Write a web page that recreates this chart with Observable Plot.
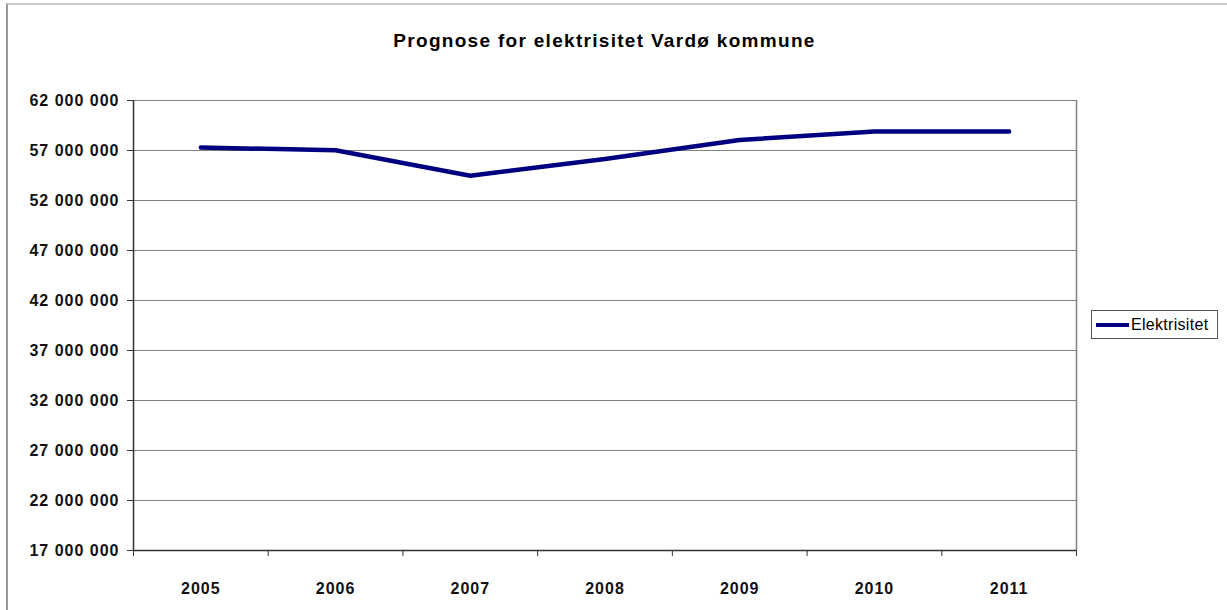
<!DOCTYPE html>
<html>
<head>
<meta charset="utf-8">
<script src="https://cdn.jsdelivr.net/npm/d3@7"></script>
<script src="https://cdn.jsdelivr.net/npm/@observablehq/plot@0.6"></script>
<style>
  html, body { margin: 0; padding: 0; background: #fff; }
  #wrap { position: relative; width: 1227px; height: 610px; overflow: hidden; font-family: "Liberation Sans", Arial, sans-serif; }
  #frame { position: absolute; left: 6px; top: 3px; width: 1240px; height: 620px; border-top: 2px solid #c8c8c8; border-left: 2px solid #9a9a9a; box-sizing: border-box; }
  #title { position: absolute; left: 133px; width: 943px; top: 30px; text-align: center; font-size: 19px; letter-spacing: 1.3px; font-weight: bold; color: #000; }
  #chart { position: absolute; left: 0; top: 80px; }
  #legend { position: absolute; left: 1091px; top: 310px; width: 127px; height: 29px; border: 1px solid #555; box-sizing: border-box; display: flex; align-items: center; font-size: 16px; letter-spacing: 0.3px; color: #000; }
  #legend .swatch { width: 33px; height: 4px; background: #000080; margin-left: 4px; margin-right: 2px; }
</style>
</head>
<body>
<div id="wrap">
  <div id="frame"></div>
  <div id="title">Prognose for elektrisitet Vardø kommune</div>
  <div id="chart"></div>
  <div id="legend"><div class="swatch"></div><span>Elektrisitet</span></div>
</div>
<script>
const years = [2005, 2006, 2007, 2008, 2009, 2010, 2011];
const values = [57300000, 57020000, 54480000, 56150000, 58050000, 58900000, 58900000];
const yTicks = [17000000, 22000000, 27000000, 32000000, 37000000, 42000000, 47000000, 52000000, 57000000, 62000000];
const seriesName = "Elektrisitet";

const data = years.map((year, i) => ({year, value: values[i], series: seriesName}));
const xMin = years[0] - 0.5;
const xMax = years[years.length - 1] + 0.5;
const boundaries = years.map(y => y - 0.5).concat([xMax]);
const yMin = yTicks[0];
const yMax = yTicks[yTicks.length - 1];
const fmt = d => d3.format(",")(d).replace(/,/g, " ");

const chart = Plot.plot({
  width: 1227,
  height: 530,
  marginLeft: 133,
  marginRight: 151,
  marginTop: 20,
  marginBottom: 60,
  style: {fontFamily: "'Liberation Sans', Arial, sans-serif", fontSize: "16px", letterSpacing: "1px", background: "transparent", overflow: "visible"},
  x: {type: "linear", domain: [xMin, xMax], axis: null},
  y: {type: "linear", domain: [yMin, yMax], axis: null},
  marks: [
    Plot.ruleY(yTicks, {stroke: "#808080", strokeWidth: 1}),
    Plot.ruleX([xMax], {stroke: "#808080", strokeWidth: 1.5}),
    Plot.ruleY(yTicks, {x1: xMin, x2: xMin, insetLeft: -6, stroke: "#333"}),
    Plot.ruleX(boundaries, {y1: yMin, y2: yMin, insetBottom: -6, stroke: "#333"}),
    Plot.ruleY([yMin], {stroke: "#333", strokeWidth: 1.5}),
    Plot.ruleX([xMin], {stroke: "#333", strokeWidth: 1.5}),
    Plot.line(data, {x: "year", y: "value", stroke: "#000080", strokeWidth: 4.5}),
    Plot.text(yTicks, {x: xMin, y: d => d, text: fmt, textAnchor: "end", dx: -14, fontWeight: "bold", fontSize: 16, fill: "#111"}),
    Plot.text(years, {x: d => d, y: yMin, text: d => String(d), dy: 38, fontWeight: "bold", fontSize: 16, fill: "#111"})
  ]
});
document.getElementById("chart").appendChild(chart);
</script>
</body>
</html>
